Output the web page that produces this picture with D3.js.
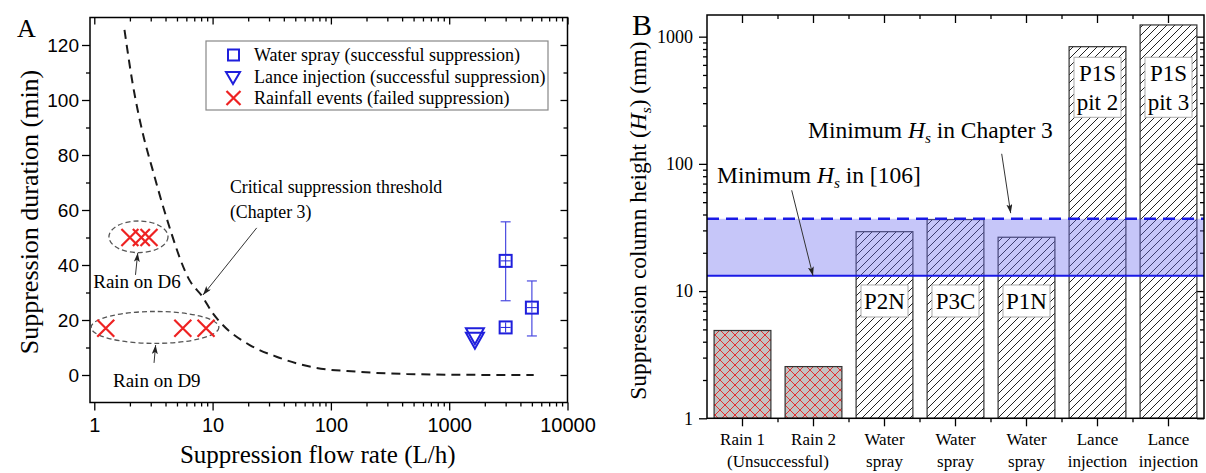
<!DOCTYPE html>
<html>
<head>
<meta charset="utf-8">
<script src="https://cdn.jsdelivr.net/npm/d3@7"></script>
<style>
  body { margin: 0; background: #fff; }
</style>
</head>
<body>
<svg id="chart" width="1206" height="473"></svg>
<script>
// ---------------- panel A data ----------------
const rainFlow = [2.0, 2.5, 2.9, 1.25, 5.6, 8.8]
const rainDuration = [50, 50, 50, 17, 17, 17]
const sprayFlow = [3000, 3000, 5000]
const sprayDuration = [41.5, 17.3, 24.5]
const sprayLow = [27, 16.5, 14.2]
const sprayHigh = [55.7, 18.2, 34.2]
const lanceFlow = [1650, 1650]
const lanceDuration = [14.8, 13.2]
const thresholdFlow = [1.8, 2.11, 2.57, 3.12, 4.05, 6.38, 8.2, 10.06, 12.2, 20.6, 34.7, 70.8, 165, 438, 1607, 5180]
const thresholdDuration = [125.5, 106, 87.9, 74.5, 57.6, 34.5, 28.5, 22.4, 18.2, 10.9, 6.65, 2.8, 1.2, 0.36, 0.05, 0.02]
const flowTicks = [1, 10, 100, 1000, 10000]
const durationTicks = [0, 20, 40, 60, 80, 100, 120]

// ---------------- panel B data ----------------
const caseIds = ["R1", "R2", "P2N", "P3C", "P1N", "P1S2", "P1S3"]
const caseLine1 = ["Rain 1", "Rain 2", "Water", "Water", "Water", "Lance", "Lance"]
const caseLine2 = ["", "", "spray", "spray", "spray", "injection", "injection"]
const columnHeight = [4.9, 2.55, 29.3, 36.5, 26.5, 834, 1236]
const caseTag1 = ["", "", "P2N", "P3C", "P1N", "P1S", "P1S"]
const caseTag2 = ["", "", "", "", "", "pit 2", "pit 3"]
const hsChapter3 = 37
const hsRef106 = 13.2
const heightTicks = [1, 10, 100, 1000]

const sans = '"Liberation Sans", Arial, sans-serif'
const serif = '"Liberation Serif", "Times New Roman", serif'

const svg = d3.select("#chart").attr("font-family", serif)
const defs = svg.append("defs")

let hatch = defs.append("pattern").attr("id", "hatch")
  .attr("patternUnits", "userSpaceOnUse").attr("width", 8).attr("height", 8)
hatch.append("rect").attr("width", 8).attr("height", 8).attr("fill", "#fff")
hatch.append("path").attr("d", "M-2,2 L2,-2 M0,8 L8,0 M6,10 L10,6")
  .attr("stroke", "#222").attr("stroke-width", 1)

let xhatch = defs.append("pattern").attr("id", "xhatch")
  .attr("patternUnits", "userSpaceOnUse").attr("width", 10).attr("height", 10)
xhatch.append("rect").attr("width", 10).attr("height", 10).attr("fill", "#c3c3c3")
xhatch.append("path").attr("d", "M0,0 L10,10 M10,0 L0,10")
  .attr("stroke", "#e23030").attr("stroke-width", 1)

defs.append("marker").attr("id", "arrow")
  .attr("markerUnits", "userSpaceOnUse").attr("markerWidth", 10).attr("markerHeight", 8)
  .attr("refX", 9).attr("refY", 3).attr("orient", "auto")
  .append("path").attr("d", "M0,0 L9,3 L0,6 L2,3 Z").attr("fill", "#222")

function cleanAxis(g, family, size) {
  g.attr("font-family", family).attr("font-size", size)
  g.select(".domain").remove()
  g.selectAll(".tick line").attr("stroke", "#000").attr("stroke-width", 1.3)
  g.selectAll(".tick text").attr("fill", "#000")
}

// #################################
// Panel A : duration vs flow rate
// #################################
const xA = d3.scaleLog().domain([0.92, 10000]).range([90, 567.5])
const yA = d3.scaleLinear().domain([-10, 130]).range([402.5, 17.5])
const [aL, aR] = xA.range(), [aB, aT] = yA.range()

let flowMinor = []
flowTicks.slice(0, 4).forEach(d => { for (let k = 2; k < 10; k++) flowMinor.push(d * k) })
const durationMinor = [10, 30, 50, 70, 90, 110]

svg.append("g").attr("transform", `translate(0,${aB})`)
  .call(d3.axisBottom(xA).tickValues(flowTicks).tickFormat(d3.format("d")).tickSize(8).tickPadding(7))
  .call(g => cleanAxis(g, sans, 20))
svg.append("g").attr("transform", `translate(0,${aB})`)
  .call(d3.axisBottom(xA).tickValues(flowMinor).tickFormat("").tickSize(4))
  .call(g => cleanAxis(g, sans, 20))
svg.append("g").attr("transform", `translate(0,${aT})`)
  .call(d3.axisBottom(xA).tickValues(flowTicks).tickFormat("").tickSize(7))
  .call(g => cleanAxis(g, sans, 20))
svg.append("g").attr("transform", `translate(0,${aT})`)
  .call(d3.axisBottom(xA).tickValues(flowMinor).tickFormat("").tickSize(4))
  .call(g => cleanAxis(g, sans, 20))
svg.append("g").attr("transform", `translate(${aL},0)`)
  .call(d3.axisLeft(yA).tickValues(durationTicks).tickSize(8).tickPadding(3))
  .call(g => cleanAxis(g, sans, 19))
svg.append("g").attr("transform", `translate(${aL},0)`)
  .call(d3.axisLeft(yA).tickValues(durationMinor).tickFormat("").tickSize(4))
  .call(g => cleanAxis(g, sans, 19))
svg.append("g").attr("transform", `translate(${aR},0)`)
  .call(d3.axisLeft(yA).tickValues(durationTicks).tickFormat("").tickSize(7))
  .call(g => cleanAxis(g, sans, 19))
svg.append("g").attr("transform", `translate(${aR},0)`)
  .call(d3.axisLeft(yA).tickValues(durationMinor).tickFormat("").tickSize(4))
  .call(g => cleanAxis(g, sans, 19))

svg.append("rect").attr("x", aL).attr("y", aT).attr("width", aR - aL).attr("height", aB - aT)
  .attr("fill", "none").attr("stroke", "#000").attr("stroke-width", 1.5)

svg.append("text").attr("x", 17).attr("y", 37).attr("font-size", 26).text("A")
svg.append("text").attr("transform", `translate(38,${(aT + aB) / 2 + 2}) rotate(-90)`)
  .attr("text-anchor", "middle").attr("font-size", 26).text("Suppression duration (min)")
svg.append("text").attr("x", (aL + aR) / 2 - 11).attr("y", 463)
  .attr("text-anchor", "middle").attr("font-size", 25).text("Suppression flow rate (L/h)")

// threshold curve
const curve = d3.line().x(d => xA(d[0])).y(d => yA(d[1])).curve(d3.curveMonotoneX)
svg.append("path").datum(d3.zip(thresholdFlow, thresholdDuration))
  .attr("d", curve).attr("fill", "none").attr("stroke", "#1a1a1a")
  .attr("stroke-width", 2).attr("stroke-dasharray", "9,6")

// ellipses round the rainfall groups
function ringAround(f0, f1, d0, d1) {
  svg.append("ellipse")
    .attr("cx", (xA(f0) + xA(f1)) / 2).attr("cy", (yA(d0) + yA(d1)) / 2)
    .attr("rx", (xA(f1) - xA(f0)) / 2).attr("ry", (yA(d0) - yA(d1)) / 2)
    .attr("fill", "none").attr("stroke", "#555").attr("stroke-width", 1.3)
    .attr("stroke-dasharray", "5,3")
}
ringAround(1.33, 4.2, 44.5, 56)
ringAround(0.94, 11.3, 11.5, 23.1)

// rainfall crosses
function cross(g, cx, cy, r) {
  g.append("path").attr("d", `M${cx - r},${cy - r} L${cx + r},${cy + r} M${cx + r},${cy - r} L${cx - r},${cy + r}`)
    .attr("stroke", "#ee2222").attr("stroke-width", 2.2).attr("fill", "none")
}
rainFlow.forEach((f, i) => cross(svg, xA(f), yA(rainDuration[i]), 8.5))

// water spray with error bars
const blue = "#1f1fdc"
sprayFlow.forEach((f, i) => {
  let cx = xA(f)
  svg.append("line").attr("x1", cx).attr("x2", cx)
    .attr("y1", yA(sprayLow[i])).attr("y2", yA(sprayHigh[i]))
    .attr("stroke", "#4a4ae0").attr("stroke-width", 1.2)
  ;[sprayLow[i], sprayHigh[i]].forEach(v => {
    svg.append("line").attr("x1", cx - 5).attr("x2", cx + 5)
      .attr("y1", yA(v)).attr("y2", yA(v)).attr("stroke", "#4a4ae0").attr("stroke-width", 1.2)
  })
  let cy = yA(sprayDuration[i])
  svg.append("rect").attr("x", cx - 6).attr("y", cy - 6).attr("width", 12).attr("height", 12)
    .attr("fill", "#fff").attr("stroke", blue).attr("stroke-width", 2)
  svg.append("path").attr("d", `M${cx},${cy - 5} V${cy + 5} M${cx - 5},${cy} H${cx + 5}`)
    .attr("stroke", blue).attr("stroke-width", 1)
})

// lance injection
lanceFlow.forEach((f, i) => {
  let cx = xA(f), cy = yA(lanceDuration[i])
  svg.append("path").attr("d", `M${cx - 9},${cy - 6} L${cx + 9},${cy - 6} L${cx},${cy + 10} Z`)
    .attr("fill", "none").attr("stroke", blue).attr("stroke-width", 2)
})

// legend
const lg = svg.append("g")
lg.append("rect").attr("x", 206).attr("y", 41).attr("width", 342).attr("height", 69)
  .attr("fill", "#fff").attr("stroke", "#888").attr("stroke-width", 1.2)
const legendText = ["Water spray (successful suppression)", "Lance injection (successful suppression)", "Rainfall events (failed suppression)"]
const legendY = [55, 77, 98]
lg.append("rect").attr("x", 228).attr("y", legendY[0] - 5.5).attr("width", 11).attr("height", 11)
  .attr("fill", "none").attr("stroke", blue).attr("stroke-width", 2)
lg.append("path").attr("d", `M226,${legendY[1] - 5} L240,${legendY[1] - 5} L233,${legendY[1] + 7} Z`)
  .attr("fill", "none").attr("stroke", blue).attr("stroke-width", 2)
cross(lg, 233.5, legendY[2], 7)
legendText.forEach((t, i) => {
  lg.append("text").attr("x", 254).attr("y", legendY[i] + 6).attr("font-size", 18).text(t)
})

// annotations, panel A
svg.append("text").attr("x", xA(14)).attr("y", yA(66.2)).attr("font-size", 17.8).text("Critical suppression threshold")
svg.append("text").attr("x", xA(14)).attr("y", yA(57.1)).attr("font-size", 17.8).text("(Chapter 3)")
svg.append("text").attr("x", xA(0.98)).attr("y", yA(31.6)).attr("font-size", 19).text("Rain on D6")
svg.append("text").attr("x", xA(1.44)).attr("y", yA(-4.2)).attr("font-size", 19).text("Rain on D9")

function arrow(x1, y1, x2, y2) {
  svg.append("line").attr("x1", x1).attr("y1", y1).attr("x2", x2).attr("y2", y2)
    .attr("stroke", "#333").attr("stroke-width", 1).attr("marker-end", "url(#arrow)")
}
arrow(xA(23.6), yA(53.5), xA(8.3), yA(29.1))
arrow(xA(2.23), yA(36.4), xA(2.33), yA(44.4))
arrow(xA(3.2), yA(4.4), xA(3.3), yA(10.9))

// #################################
// Panel B : suppression column height
// #################################
const xB = d3.scaleBand().domain(caseIds).range([707, 1204]).paddingInner(0.2).paddingOuter(0.1)
const yB = d3.scaleLog().domain([1, 1480]).range([418.3, 15])
const [bL, bR] = xB.range(), [bB, bT] = yB.range()
const bw = xB.bandwidth(), step = xB.step()

let heightMinor = []
heightTicks.slice(0, 3).forEach(d => { for (let k = 2; k < 10; k++) heightMinor.push(d * k) })
const bandEdges = caseIds.slice(0, -1).map(id => xB(id) + bw + (step - bw) / 2)

svg.append("g").attr("transform", `translate(${bL},0)`)
  .call(d3.axisLeft(yB).tickValues(heightTicks).tickFormat(d3.format("d")).tickSize(8).tickPadding(6))
  .call(g => cleanAxis(g, serif, 18))
svg.append("g").attr("transform", `translate(${bL},0)`)
  .call(d3.axisLeft(yB).tickValues(heightMinor).tickFormat("").tickSize(4))
  .call(g => cleanAxis(g, serif, 18))
svg.append("g").attr("transform", `translate(${bR},0)`)
  .call(d3.axisLeft(yB).tickValues(heightTicks).tickFormat("").tickSize(7))
  .call(g => cleanAxis(g, serif, 18))
svg.append("g").attr("transform", `translate(${bR},0)`)
  .call(d3.axisLeft(yB).tickValues(heightMinor).tickFormat("").tickSize(4))
  .call(g => cleanAxis(g, serif, 18))

const centers = caseIds.map(id => xB(id) + bw / 2)
;[bB, bT].forEach(yy => {
  svg.selectAll(null).data(centers).enter().append("line")
    .attr("x1", d => d).attr("x2", d => d).attr("y1", yy).attr("y2", yy + 8)
    .attr("stroke", "#000").attr("stroke-width", 1.3)
  svg.selectAll(null).data(bandEdges).enter().append("line")
    .attr("x1", d => d).attr("x2", d => d).attr("y1", yy).attr("y2", yy + 4)
    .attr("stroke", "#000").attr("stroke-width", 1.3)
})

// bars
svg.selectAll(".bar").data(caseIds).enter().append("rect")
  .attr("class", "bar")
  .attr("x", d => xB(d)).attr("width", bw)
  .attr("y", (d, i) => yB(columnHeight[i]))
  .attr("height", (d, i) => bB - yB(columnHeight[i]))
  .attr("fill", (d, i) => i < 2 ? "url(#xhatch)" : "url(#hatch)")
  .attr("stroke", "#333").attr("stroke-width", 1.2)

// band between the two minimum heights
svg.append("rect").attr("x", bL).attr("width", bR - bL)
  .attr("y", yB(hsChapter3)).attr("height", yB(hsRef106) - yB(hsChapter3))
  .attr("fill", "rgb(105,105,240)").attr("fill-opacity", 0.38)
svg.append("line").attr("x1", bL).attr("x2", bR).attr("y1", yB(hsChapter3)).attr("y2", yB(hsChapter3))
  .attr("stroke", "#1a1ae6").attr("stroke-width", 2.5).attr("stroke-dasharray", "12,7")
svg.append("line").attr("x1", bL).attr("x2", bR).attr("y1", yB(hsRef106)).attr("y2", yB(hsRef106))
  .attr("stroke", "#1a1ae6").attr("stroke-width", 2)

// tags in bars
caseIds.forEach((id, i) => {
  if (!caseTag1[i]) return
  let cx = xB(id) + bw / 2
  let two = caseTag2[i] !== ""
  let cy = two ? yB(400) : yB(8.36)
  let h = two ? 60 : 32
  svg.append("rect").attr("x", cx - 23.5).attr("y", cy - h / 2).attr("width", 47).attr("height", h)
    .attr("fill", "#fff").attr("stroke", "#aaa").attr("stroke-width", 1)
  if (two) {
    svg.append("text").attr("x", cx).attr("y", cy - 6).attr("text-anchor", "middle").attr("font-size", 23).text(caseTag1[i])
    svg.append("text").attr("x", cx).attr("y", cy + 23).attr("text-anchor", "middle").attr("font-size", 23).text(caseTag2[i])
  } else {
    svg.append("text").attr("x", cx).attr("y", cy + 8).attr("text-anchor", "middle").attr("font-size", 23).text(caseTag1[i])
  }
})

svg.append("rect").attr("x", bL).attr("y", bT).attr("width", bR - bL).attr("height", bB - bT)
  .attr("fill", "none").attr("stroke", "#000").attr("stroke-width", 1.5)

// category labels
caseIds.forEach((id, i) => {
  let cx = xB(id) + bw / 2
  svg.append("text").attr("x", cx).attr("y", 445).attr("text-anchor", "middle").attr("font-size", 17).text(caseLine1[i])
  if (caseLine2[i]) svg.append("text").attr("x", cx).attr("y", 466.5).attr("text-anchor", "middle").attr("font-size", 17).text(caseLine2[i])
})
svg.append("text").attr("x", (xB("R1") + xB("R2") + bw) / 2).attr("y", 466.5)
  .attr("text-anchor", "middle").attr("font-size", 17).text("(Unsuccessful)")

svg.append("text").attr("x", 632).attr("y", 35).attr("font-size", 30).text("B")

function hsText(x, y, before, after, size, anchor) {
  let t = svg.append("text").attr("x", x).attr("y", y).attr("font-size", size).attr("text-anchor", anchor || "start")
  t.append("tspan").text(before)
  t.append("tspan").attr("font-style", "italic").text("H")
  t.append("tspan").attr("font-style", "italic").attr("font-size", size * 0.65).attr("dy", size * 0.22).text("s")
  t.append("tspan").attr("dy", -size * 0.22).text(after)
  return t
}
hsText(0, 0, "Suppression column height (", ") (mm)", 23.5, "middle")
  .attr("x", null).attr("y", null)
  .attr("transform", `translate(646,${(bT + bB) / 2 + 4}) rotate(-90)`)
hsText(808, yB(160), "Minimum ", " in Chapter 3", 23.5)
hsText(717, yB(70.8), "Minimum ", " in [106]", 23.5)

arrow(1001.7, yB(120), 1010.7, yB(41))
arrow(791.7, yB(62), 813, yB(hsRef106))
</script>
</body>
</html>
